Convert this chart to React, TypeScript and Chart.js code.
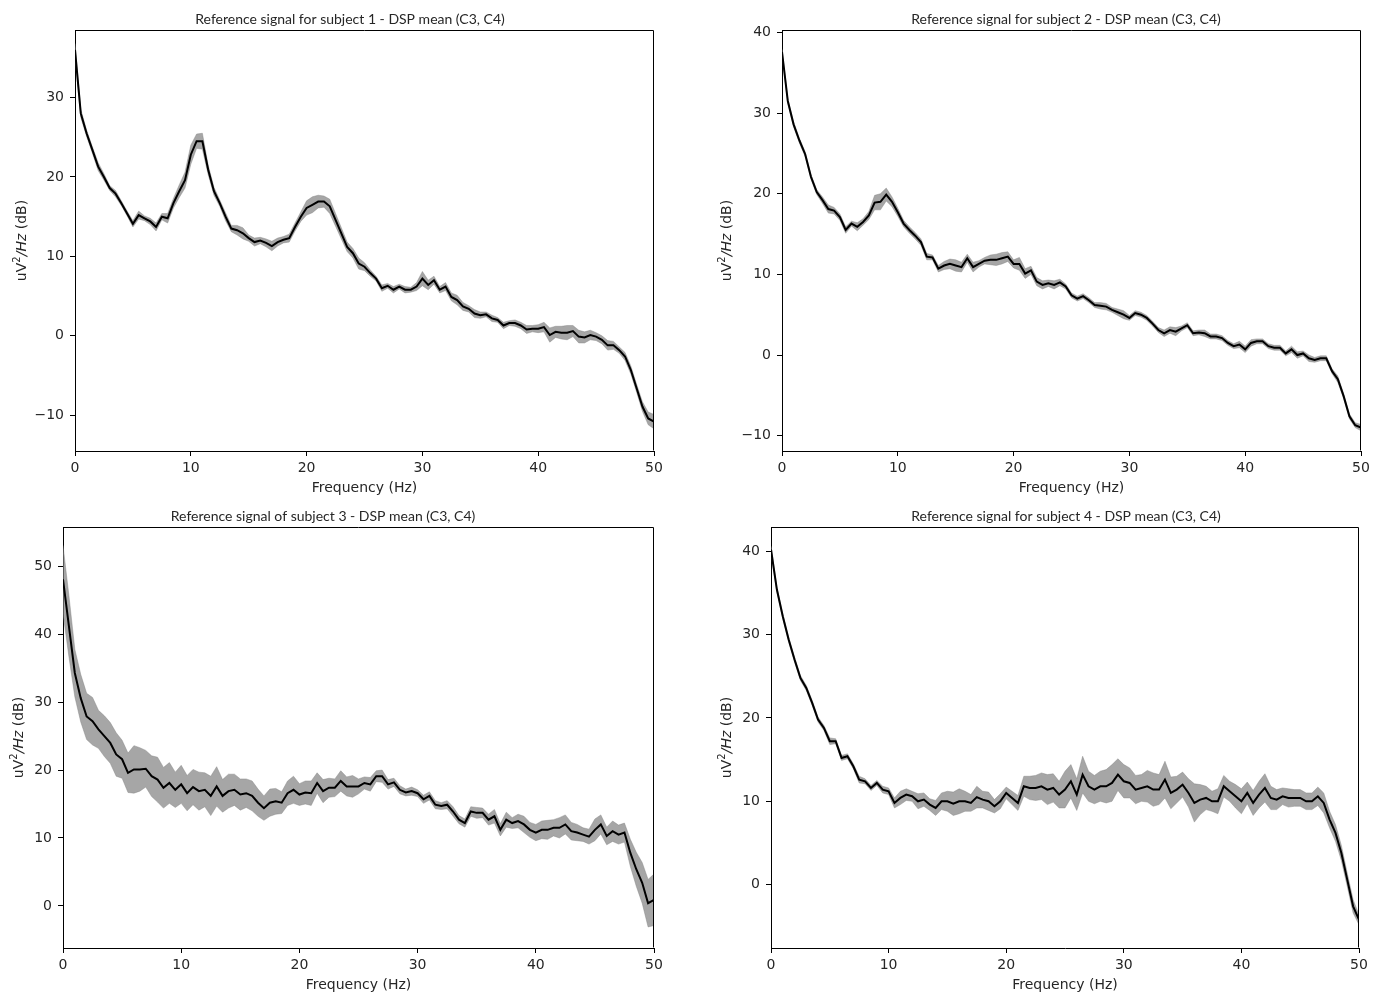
import React, { useEffect, useRef } from "react";
import { Chart, registerables } from "chart.js";

Chart.register(...registerables);

// ---------- DATA ----------
const freqHz = [
  0, 0.5, 1, 1.5, 2, 2.5, 3, 3.5, 4, 4.5,
  5, 5.5, 6, 6.5, 7, 7.5, 8, 8.5, 9, 9.5,
  10, 10.5, 11, 11.5, 12, 12.5, 13, 13.5, 14, 14.5,
  15, 15.5, 16, 16.5, 17, 17.5, 18, 18.5, 19, 19.5,
  20, 20.5, 21, 21.5, 22, 22.5, 23, 23.5, 24, 24.5,
  25, 25.5, 26, 26.5, 27, 27.5, 28, 28.5, 29, 29.5,
  30, 30.5, 31, 31.5, 32, 32.5, 33, 33.5, 34, 34.5,
  35, 35.5, 36, 36.5, 37, 37.5, 38, 38.5, 39, 39.5,
  40, 40.5, 41, 41.5, 42, 42.5, 43, 43.5, 44, 44.5,
  45, 45.5, 46, 46.5, 47, 47.5, 48, 48.5, 49, 49.5,
  50,
];

const subject1Mean = [
  36.0, 28.0, 25.5, 23.4, 21.3, 20.0, 18.6, 17.9, 16.7, 15.4,
  14.1, 15.2, 14.8, 14.4, 13.7, 15.0, 14.8, 16.7, 18.2, 19.6,
  22.8, 24.5, 24.5, 20.9, 18.2, 16.7, 15.0, 13.5, 13.3, 12.9,
  12.3, 11.8, 12.0, 11.7, 11.3, 11.8, 12.1, 12.3, 13.7, 15.0,
  16.1, 16.5, 16.9, 16.9, 16.3, 14.6, 12.9, 11.2, 10.4, 9.1,
  8.7, 7.9, 7.2, 6.0, 6.3, 5.8, 6.2, 5.8, 5.8, 6.2,
  7.2, 6.4, 7.0, 5.8, 6.2, 4.9, 4.5, 3.7, 3.4, 2.8,
  2.6, 2.7, 2.2, 2.0, 1.3, 1.6, 1.6, 1.3, 0.8, 0.9,
  0.9, 1.1, 0.1, 0.5, 0.4, 0.4, 0.6, -0.1, -0.2, 0.1,
  -0.1, -0.5, -1.2, -1.2, -1.8, -2.6, -4.3, -6.6, -8.9, -10.4,
  -10.8,
];
const subject1Std = [
  0.8, 0.5, 0.4, 0.4, 0.5, 0.4, 0.3, 0.4, 0.3, 0.3,
  0.4, 0.5, 0.3, 0.4, 0.5, 0.4, 0.6, 0.6, 0.8, 1.0,
  1.2, 0.9, 1.0, 0.6, 0.5, 0.4, 0.5, 0.4, 0.6, 0.7,
  0.4, 0.5, 0.4, 0.5, 0.6, 0.5, 0.4, 0.5, 0.5, 0.6,
  0.9, 1.0, 0.8, 0.7, 0.9, 0.8, 0.7, 0.6, 0.6, 0.7,
  0.5, 0.4, 0.3, 0.4, 0.3, 0.4, 0.3, 0.4, 0.3, 0.5,
  0.9, 0.6, 0.5, 0.4, 0.5, 0.5, 0.6, 0.5, 0.4, 0.5,
  0.4, 0.3, 0.4, 0.3, 0.4, 0.3, 0.4, 0.4, 0.5, 0.4,
  0.5, 0.6, 0.9, 0.7, 0.8, 0.9, 0.7, 0.8, 0.7, 0.6,
  0.5, 0.5, 0.6, 0.5, 0.4, 0.5, 0.5, 0.5, 0.6, 0.8,
  0.9,
];

const subject2Mean = [
  37.6, 31.5, 28.6, 26.6, 24.9, 22.1, 20.2, 19.2, 18.1, 17.9,
  17.1, 15.5, 16.3, 15.9, 16.5, 17.3, 18.9, 19.0, 19.9, 19.0,
  17.7, 16.3, 15.5, 14.8, 14.0, 12.2, 12.1, 10.7, 11.1, 11.3,
  11.1, 10.9, 12.0, 10.9, 11.3, 11.7, 11.8, 11.8, 12.0, 12.2,
  11.3, 11.3, 10.1, 10.5, 9.1, 8.7, 8.9, 8.7, 9.0, 8.5,
  7.4, 7.0, 7.3, 6.8, 6.2, 6.1, 6.0, 5.6, 5.3, 5.0,
  4.6, 5.2, 5.0, 4.6, 3.9, 3.1, 2.7, 3.1, 2.9, 3.3,
  3.7, 2.7, 2.8, 2.7, 2.3, 2.3, 2.1, 1.5, 1.1, 1.3,
  0.7, 1.5, 1.7, 1.7, 1.1, 0.9, 0.9, 0.2, 0.7, 0.0,
  0.2, -0.4, -0.6, -0.4, -0.4, -2.0, -3.0, -5.1, -7.6, -8.7,
  -9.0,
];
const subject2Std = [
  0.3, 0.3, 0.3, 0.3, 0.3, 0.3, 0.3, 0.4, 0.5, 0.4,
  0.4, 0.4, 0.3, 0.5, 0.4, 0.5, 0.9, 1.0, 0.8, 0.6,
  0.5, 0.4, 0.4, 0.4, 0.4, 0.4, 0.3, 0.4, 0.5, 0.6,
  0.7, 0.6, 0.5, 0.6, 0.4, 0.4, 0.6, 0.7, 0.7, 0.6,
  0.5, 0.8, 0.6, 0.5, 0.5, 0.5, 0.4, 0.5, 0.4, 0.3,
  0.3, 0.3, 0.3, 0.3, 0.3, 0.4, 0.4, 0.3, 0.4, 0.5,
  0.3, 0.3, 0.3, 0.3, 0.3, 0.3, 0.4, 0.4, 0.5, 0.3,
  0.3, 0.3, 0.3, 0.4, 0.3, 0.3, 0.3, 0.3, 0.3, 0.4,
  0.4, 0.4, 0.3, 0.3, 0.3, 0.3, 0.3, 0.3, 0.4, 0.4,
  0.3, 0.4, 0.3, 0.3, 0.3, 0.3, 0.4, 0.3, 0.3, 0.3,
  0.4,
];

const subject3Mean = [
  48.1, 41.2, 34.3, 30.6, 27.9, 27.2, 26.0, 25.0, 24.0, 22.3,
  21.6, 19.6, 20.1, 20.1, 20.2, 19.1, 18.6, 17.4, 18.1, 17.1,
  17.9, 16.6, 17.5, 16.9, 17.1, 16.2, 17.6, 16.2, 16.9, 17.1,
  16.4, 16.6, 16.2, 15.2, 14.4, 15.2, 15.4, 15.2, 16.6, 17.1,
  16.4, 16.7, 16.6, 18.1, 16.9, 17.4, 17.4, 18.4, 17.6, 17.6,
  17.6, 18.1, 17.9, 19.1, 19.1, 17.9, 18.2, 17.1, 16.7, 16.9,
  16.6, 15.7, 16.2, 14.9, 14.7, 14.9, 13.9, 12.7, 12.2, 13.9,
  13.7, 13.7, 12.7, 13.2, 11.2, 12.7, 12.2, 12.5, 12.0, 11.2,
  10.8, 11.2, 11.2, 11.5, 11.5, 12.0, 11.0, 10.8, 10.5, 10.2,
  11.2, 12.0, 10.3, 11.0, 10.5, 10.8, 7.8, 5.4, 3.4, 0.4,
  0.9,
];
const subject3Std = [
  5.0, 4.5, 3.5, 3.5, 3.4, 3.5, 2.8, 3.0, 3.0, 3.2,
  2.8, 2.9, 3.5, 3.2, 2.7, 3.0, 3.3, 3.0, 3.0, 2.6,
  2.8, 2.6, 2.6, 2.8, 2.5, 2.9, 2.9, 2.4, 2.5, 2.3,
  2.3, 2.1, 2.2, 2.0, 1.8, 2.0, 1.9, 1.6, 1.8, 2.0,
  1.6, 1.7, 1.8, 1.5, 1.7, 1.4, 1.3, 1.5, 1.4, 1.6,
  1.1, 0.9, 1.0, 0.8, 0.9, 0.7, 0.6, 0.6, 0.5, 0.6,
  0.5, 0.6, 0.6, 0.6, 0.5, 0.6, 0.7, 0.6, 0.6, 0.7,
  0.8, 0.7, 0.8, 1.0, 0.9, 1.1, 0.8, 1.0, 1.2, 1.1,
  1.2, 1.3, 1.4, 1.2, 1.5, 1.4, 1.3, 1.2, 1.0, 1.1,
  1.6, 1.4, 1.3, 1.5, 1.4, 1.4, 2.0, 2.5, 3.0, 3.5,
  3.8,
];

const subject4Mean = [
  40.2, 35.4, 32.2, 29.4, 27.0, 24.8, 23.6, 21.8, 19.8, 18.8,
  17.2, 17.2, 15.2, 15.4, 14.2, 12.6, 12.4, 11.6, 12.2, 11.4,
  11.2, 9.8, 10.4, 10.8, 10.6, 10.0, 10.2, 9.6, 9.2, 10.0,
  10.0, 9.7, 10.0, 10.0, 9.8, 10.5, 10.2, 10.0, 9.4, 10.0,
  11.0, 10.4, 9.8, 11.8, 11.6, 11.6, 11.8, 11.4, 11.6, 10.8,
  11.4, 12.4, 10.8, 13.2, 11.8, 11.4, 11.8, 11.8, 12.2, 13.2,
  12.4, 12.2, 11.4, 11.6, 11.8, 11.4, 11.4, 12.6, 11.0, 11.4,
  12.0, 11.0, 9.8, 10.2, 10.4, 10.0, 10.0, 11.8, 11.2, 10.6,
  10.0, 11.0, 9.8, 10.8, 11.6, 10.4, 10.2, 10.6, 10.4, 10.4,
  10.4, 10.0, 10.0, 10.6, 9.8, 7.8, 6.2, 3.8, 0.6, -2.6,
  -4.2,
];
const subject4Std = [
  0.4, 0.3, 0.3, 0.3, 0.3, 0.3, 0.3, 0.3, 0.3, 0.3,
  0.4, 0.3, 0.3, 0.3, 0.3, 0.4, 0.3, 0.3, 0.3, 0.4,
  0.4, 0.6, 0.8, 0.7, 0.6, 0.9, 0.8, 0.7, 0.9, 1.0,
  1.2, 1.4, 1.5, 1.2, 1.0, 1.3, 1.0, 1.1, 0.8, 0.9,
  0.7, 0.8, 0.9, 1.2, 1.4, 1.5, 1.6, 1.8, 1.7, 1.6,
  2.2, 2.0, 1.9, 2.2, 1.8, 1.7, 1.8, 2.0, 2.2, 1.9,
  2.0, 1.8, 1.7, 1.6, 1.9, 2.0, 1.8, 2.2, 1.9, 1.6,
  1.5, 1.7, 2.3, 1.8, 1.4, 1.2, 1.5, 1.3, 1.2, 1.4,
  1.5, 1.3, 1.5, 1.6, 1.7, 1.4, 1.2, 1.0, 1.1, 1.0,
  1.0, 1.0, 1.0, 1.1, 1.2, 1.0, 1.0, 0.9, 0.8, 0.8,
  0.6,
];

const xTickValues = [0, 10, 20, 30, 40, 50];
const yTicks1 = [-10, 0, 10, 20, 30];
const yTicks2 = [-10, 0, 10, 20, 30, 40];
const yTicks3 = [0, 10, 20, 30, 40, 50];
const yTicks4 = [0, 10, 20, 30, 40];

const titles = [
  "Reference signal for subject 1 - DSP mean (C3, C4)",
  "Reference signal for subject 2 - DSP mean (C3, C4)",
  "Reference signal of subject 3 - DSP mean (C3, C4)",
  "Reference signal for subject 4 - DSP mean (C3, C4)",
];
const xAxisLabel = "Frequency (Hz)";

// ---------- LAYOUT / STYLE ----------
type Panel = {
  title: string;
  mean: number[];
  std: number[];
  yMin: number;
  yMax: number;
  yTicks: number[];
  canvas: { left: number; top: number; width: number; height: number };
  plot: { left: number; top: number; right: number; bottom: number };
  titleX: number;
  ylabelX: number;
};

const panels: Panel[] = [
  {
    title: titles[0], mean: subject1Mean, std: subject1Std,
    yMin: -14.5, yMax: 38.5, yTicks: yTicks1,
    canvas: { left: 0, top: 0, width: 690, height: 498 },
    plot: { left: 75, top: 30, right: 654, bottom: 451 },
    titleX: 350, ylabelX: 22,
  },
  {
    title: titles[1], mean: subject2Mean, std: subject2Std,
    yMin: -11.9, yMax: 40.3, yTicks: yTicks2,
    canvas: { left: 692, top: 0, width: 691, height: 498 },
    plot: { left: 782, top: 30, right: 1361, bottom: 451 },
    titleX: 1066, ylabelX: 727,
  },
  {
    title: titles[2], mean: subject3Mean, std: subject3Std,
    yMin: -6.2, yMax: 55.8, yTicks: yTicks3,
    canvas: { left: 0, top: 498, width: 690, height: 498 },
    plot: { left: 63, top: 527, right: 654, bottom: 948 },
    titleX: 323, ylabelX: 19,
  },
  {
    title: titles[3], mean: subject4Mean, std: subject4Std,
    yMin: -7.6, yMax: 42.9, yTicks: yTicks4,
    canvas: { left: 692, top: 498, width: 691, height: 498 },
    plot: { left: 771, top: 527, right: 1359, bottom: 948 },
    titleX: 1066, ylabelX: 727,
  },
];

const TEXT = "#262626";
const BAND = "rgba(128,128,128,0.7)";
const TICK_FONT = "DejaVu Sans";

const fmt = (v: number) => (v < 0 ? "\u2212" + Math.abs(v) : String(v));

function makeDecor(p: Panel) {
  return {
    id: "decor",
    afterDraw(chart: any) {
      const { ctx, chartArea: a } = chart;
      ctx.save();
      // top & right spines
      ctx.strokeStyle = "#000";
      ctx.lineWidth = 1;
      ctx.beginPath();
      const l = Math.round(a.left) + 0.5;
      const r = Math.round(a.right) - 0.5;
      const t = Math.round(a.top) + 0.5;
      const b = Math.round(a.bottom) - 0.5;
      ctx.moveTo(l, t);
      ctx.lineTo(r, t);
      ctx.lineTo(r, b);
      ctx.stroke();

      // title
      ctx.fillStyle = TEXT;
      ctx.font = '14px "Lato"';
      ctx.textAlign = "center";
      ctx.textBaseline = "alphabetic";
      ctx.fillText(p.title, p.titleX - p.canvas.left, a.top - 6);

      // x label
      ctx.font = `14px "${TICK_FONT}"`;
      ctx.fillText(xAxisLabel, (a.left + a.right) / 2, a.bottom + 41);

      // y label with superscript and italic part
      const parts = [
        { t: "uV", f: `14px "${TICK_FONT}"`, dy: 0 },
        { t: "2", f: `10px "${TICK_FONT}"`, dy: -5 },
        { t: "/Hz", f: `italic 14px "${TICK_FONT}"`, dy: 0 },
        { t: " (dB)", f: `14px "${TICK_FONT}"`, dy: 0 },
      ];
      let total = 0;
      const widths = parts.map((pt) => {
        ctx.font = pt.f;
        const w = ctx.measureText(pt.t).width;
        total += w;
        return w;
      });
      ctx.translate(p.ylabelX - p.canvas.left, (a.top + a.bottom) / 2);
      ctx.rotate(-Math.PI / 2);
      ctx.textAlign = "left";
      ctx.textBaseline = "middle";
      let x = -total / 2;
      parts.forEach((pt, i) => {
        ctx.font = pt.f;
        ctx.fillText(pt.t, x, pt.dy);
        x += widths[i];
      });
      ctx.restore();
    },
  };
}

function PanelChart({ p }: { p: Panel }) {
  const ref = useRef<HTMLCanvasElement | null>(null);
  useEffect(() => {
    if (!ref.current) return;
    const L = p.plot.left - p.canvas.left;
    const T = p.plot.top - p.canvas.top;
    const R = p.canvas.width - (p.plot.right - p.canvas.left);
    const B = p.canvas.height - (p.plot.bottom - p.canvas.top);

    const meanPts = freqHz.map((f, i) => ({ x: f, y: p.mean[i] }));
    const upperPts = freqHz.map((f, i) => ({ x: f, y: p.mean[i] + p.std[i] }));
    const lowerPts = freqHz.map((f, i) => ({ x: f, y: p.mean[i] - p.std[i] }));

    const chart = new Chart(ref.current, {
      type: "line",
      data: {
        datasets: [
          {
            data: meanPts,
            borderColor: "#000",
            borderWidth: 2,
            pointRadius: 0,
            fill: false,
            tension: 0,
            order: 0,
          },
          {
            data: upperPts,
            borderColor: BAND,
            borderWidth: 0.6,
            backgroundColor: BAND,
            pointRadius: 0,
            fill: "+1",
            tension: 0,
            order: 1,
          },
          {
            data: lowerPts,
            borderColor: BAND,
            borderWidth: 0.6,
            backgroundColor: BAND,
            pointRadius: 0,
            fill: false,
            tension: 0,
            order: 2,
          },
        ],
      },
      options: {
        animation: false,
        responsive: false,
        maintainAspectRatio: false,
        layout: { padding: { left: 0, top: T, right: R, bottom: 0 } },
        plugins: {
          legend: { display: false },
          title: { display: false },
          tooltip: { enabled: false },
        },
        scales: {
          x: {
            type: "linear",
            min: 0,
            max: 50,
            afterBuildTicks: (s: any) => {
              s.ticks = xTickValues.map((v) => ({ value: v }));
            },
            afterFit: (s: any) => {
              s.height = B;
            },
            ticks: {
              autoSkip: false,
              maxRotation: 0,
              padding: 4,
              color: TEXT,
              font: { family: TICK_FONT, size: 14 },
              callback: (v: any) => fmt(Number(v)),
            },
            grid: {
              display: true,
              drawOnChartArea: false,
              drawTicks: true,
              tickLength: 5,
              color: "#000",
              lineWidth: 1,
            },
            border: { display: true, color: "#000", width: 1 },
          },
          y: {
            type: "linear",
            min: p.yMin,
            max: p.yMax,
            afterBuildTicks: (s: any) => {
              s.ticks = p.yTicks.map((v) => ({ value: v }));
            },
            afterFit: (s: any) => {
              s.width = L;
            },
            ticks: {
              autoSkip: false,
              padding: 6,
              color: TEXT,
              font: { family: TICK_FONT, size: 14 },
              callback: (v: any) => fmt(Number(v)),
            },
            grid: {
              display: true,
              drawOnChartArea: false,
              drawTicks: true,
              tickLength: 5,
              color: "#000",
              lineWidth: 1,
            },
            border: { display: true, color: "#000", width: 1 },
          },
        },
      },
      plugins: [makeDecor(p)],
    } as any);
    return () => chart.destroy();
  }, [p]);

  return (
    <canvas
      ref={ref}
      width={p.canvas.width}
      height={p.canvas.height}
      style={{
        position: "absolute",
        left: p.canvas.left,
        top: p.canvas.top,
        width: p.canvas.width,
        height: p.canvas.height,
      }}
    />
  );
}

export default function App() {
  return (
    <div
      style={{
        position: "absolute",
        left: 0,
        top: 0,
        width: 1383,
        height: 996,
        background: "#fff",
        overflow: "hidden",
      }}
    >
      {panels.map((p, i) => (
        <PanelChart key={i} p={p} />
      ))}
    </div>
  );
}
